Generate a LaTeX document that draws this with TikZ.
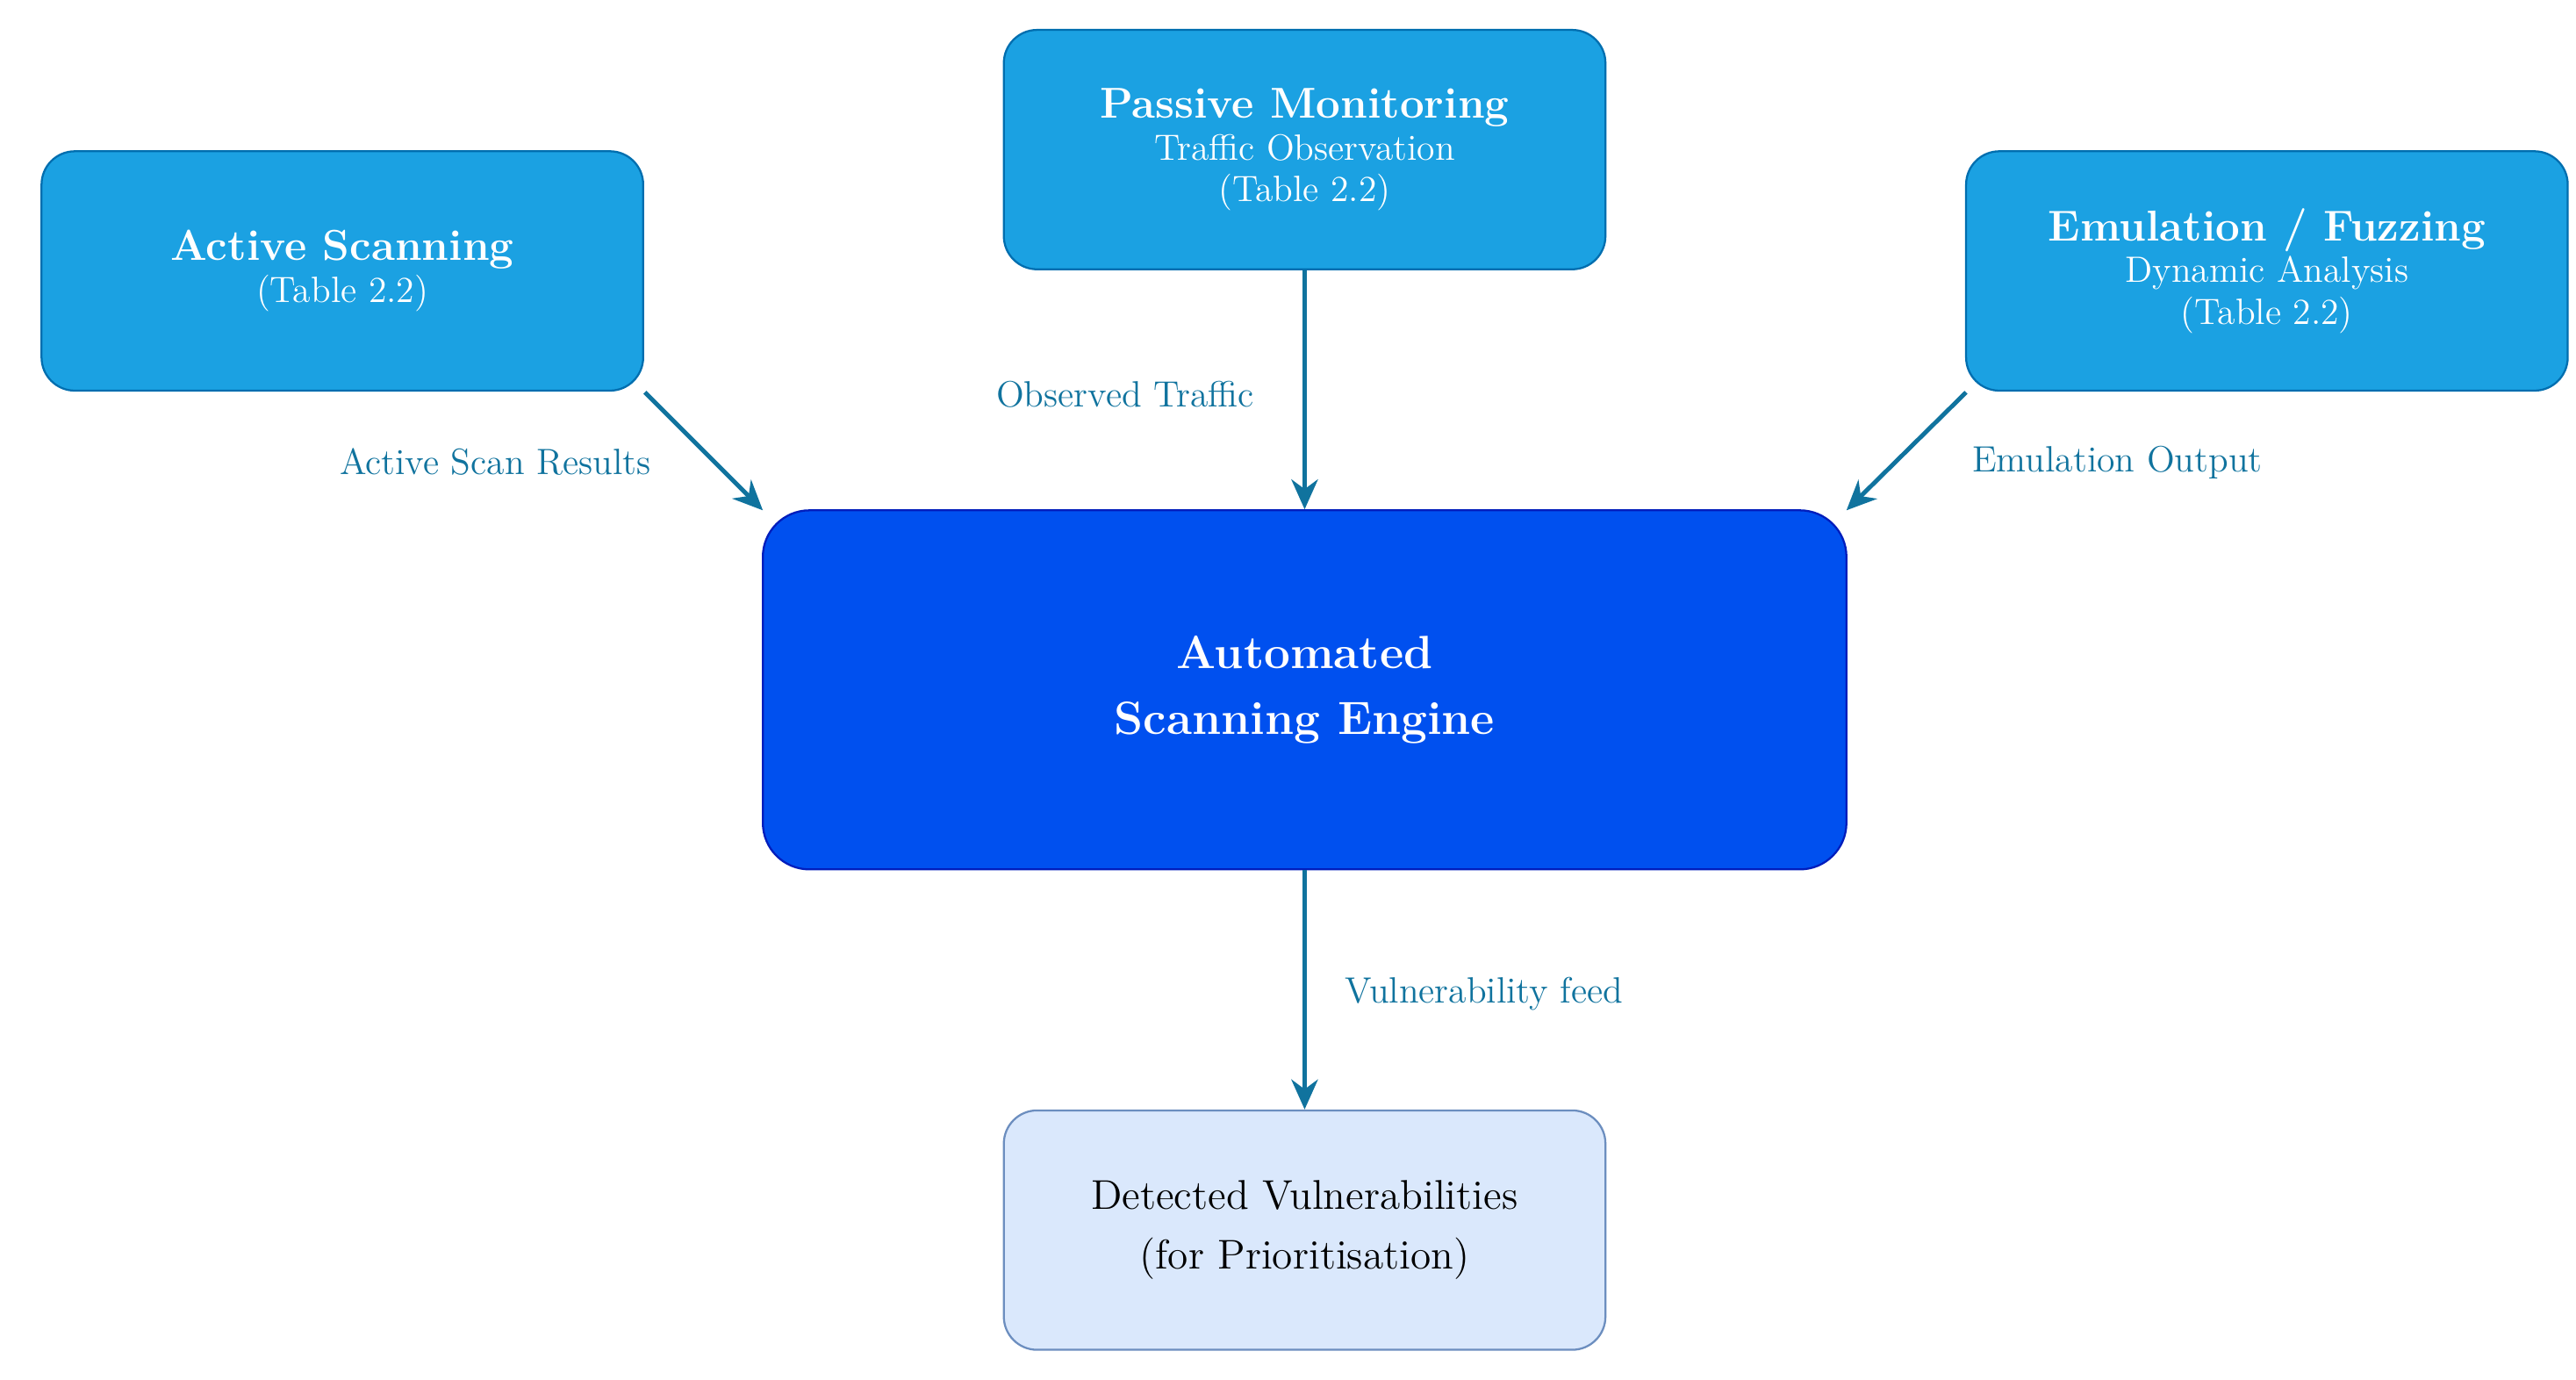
\documentclass[tikz,border=0pt]{standalone}
\usepackage{tikz}
\usetikzlibrary{arrows.meta}
\definecolor{topfill}{HTML}{1BA1E2}
\definecolor{topdraw}{HTML}{006EAF}
\definecolor{engfill}{HTML}{0050EF}
\definecolor{engdraw}{HTML}{001DBC}
\definecolor{detfill}{HTML}{DAE8FC}
\definecolor{detdraw}{HTML}{6C8EBF}
\definecolor{arr}{HTML}{10739E}
\begin{document}
\begin{tikzpicture}[x=0.5pt,y=-0.5pt,
  box/.style={draw, rounded corners=10pt, line width=0.6pt, minimum width=181pt, minimum height=72pt, align=center, inner sep=0pt},
  top/.style={box, fill=topfill, draw=topdraw, text=white, font=\fontsize{11}{12.5}\selectfont},
  conn/.style={draw=arr, line width=1.3pt, -{Stealth[length=9pt,width=8pt]}},
  lab/.style={text=arr, font=\fontsize{11}{13}\selectfont}]
\useasboundingbox (0,0) rectangle (1550,830);
\node[top] (act) at (206,163) {{\fontsize{13}{15}\selectfont\bfseries Active Scanning}\\(Table 2.2)};
\node[top] (pas) at (785,90) {{\fontsize{13}{15}\selectfont\bfseries Passive Monitoring}\\Traffic Observation\\(Table 2.2)};
\node[top] (emu) at (1364,163) {{\fontsize{13}{15}\selectfont\bfseries Emulation / Fuzzing}\\Dynamic Analysis\\(Table 2.2)};
\node[box, fill=engfill, draw=engdraw, text=white, minimum width=326pt, minimum height=108pt, rounded corners=14pt, font=\fontsize{14}{20}\selectfont\bfseries] (eng) at (785,415) {Automated\\Scanning Engine};
\node[box, fill=detfill, draw=detdraw, font=\fontsize{12.5}{18}\selectfont] (det) at (785,740) {Detected Vulnerabilities\\(for Prioritisation)};
\coordinate (a1) at (388,236); \coordinate (a2) at (459,307);
\coordinate (e1) at (1183,236); \coordinate (e2) at (1111,307);
\draw[conn] (a1) -- (a2);
\draw[conn] (e1) -- (e2);
\draw[conn] (pas.south) -- (eng.north);
\draw[conn] (eng.south) -- (det.north);
\node[lab] (l1) at (298,278) {Active Scan Results};
\node[lab] (l2) at (677,237) {Observed Traffic};
\node[lab] (l3) at (1274,278) {Emulation Output};
\node[lab] (l4) at (893,598) {Vulnerability feed};
\end{tikzpicture}
\end{document}
